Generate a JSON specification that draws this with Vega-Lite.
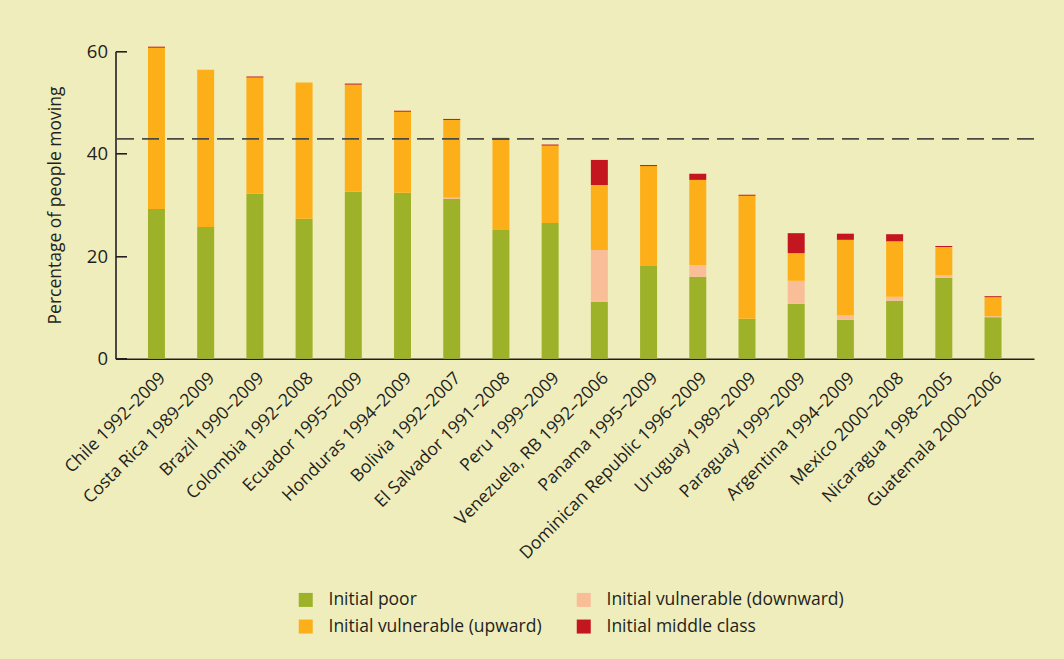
{
  "$schema": "https://vega.github.io/schema/vega-lite/v6.json",
  "width": 918.5,
  "height": 307.4,
  "autosize": {"type": "none"},
  "padding": {"left": 115.5, "top": 51.3, "right": 30, "bottom": 300.3},
  "background": "#efedbc",
  "config": {
    "font": "Open Sans",
    "view": {"stroke": null},
    "axis": {"labelColor": "#231f20", "titleColor": "#231f20", "domainColor": "#231f20", "tickColor": "#231f20", "grid": false}
  },
  "layer": [
    {
      "data": {
        "values": [
          {"country": "Chile 1992–2009", "Initial poor": 29.2, "Initial vulnerable (downward)": 0, "Initial vulnerable (upward)": 31.5, "Initial middle class": 0.2},
          {"country": "Costa Rica 1989–2009", "Initial poor": 25.7, "Initial vulnerable (downward)": 0, "Initial vulnerable (upward)": 30.7, "Initial middle class": 0},
          {"country": "Brazil 1990–2009", "Initial poor": 32.2, "Initial vulnerable (downward)": 0, "Initial vulnerable (upward)": 22.7, "Initial middle class": 0.2},
          {"country": "Colombia 1992–2008", "Initial poor": 27.3, "Initial vulnerable (downward)": 0, "Initial vulnerable (upward)": 26.6, "Initial middle class": 0},
          {"country": "Ecuador 1995–2009", "Initial poor": 32.6, "Initial vulnerable (downward)": 0, "Initial vulnerable (upward)": 20.9, "Initial middle class": 0.2},
          {"country": "Honduras 1994–2009", "Initial poor": 32.4, "Initial vulnerable (downward)": 0, "Initial vulnerable (upward)": 15.8, "Initial middle class": 0.2},
          {"country": "Bolivia 1992–2007", "Initial poor": 31.2, "Initial vulnerable (downward)": 0.2, "Initial vulnerable (upward)": 15.2, "Initial middle class": 0.2},
          {"country": "El Salvador 1991–2008", "Initial poor": 25.1, "Initial vulnerable (downward)": 0, "Initial vulnerable (upward)": 17.6, "Initial middle class": 0.4},
          {"country": "Peru 1999–2009", "Initial poor": 26.5, "Initial vulnerable (downward)": 0, "Initial vulnerable (upward)": 15.1, "Initial middle class": 0.2},
          {"country": "Venezuela, RB 1992–2006", "Initial poor": 11.1, "Initial vulnerable (downward)": 10.1, "Initial vulnerable (upward)": 12.7, "Initial middle class": 4.9},
          {"country": "Panama 1995–2009", "Initial poor": 18.1, "Initial vulnerable (downward)": 0, "Initial vulnerable (upward)": 19.5, "Initial middle class": 0.2},
          {"country": "Dominican Republic 1996–2009", "Initial poor": 16.0, "Initial vulnerable (downward)": 2.3, "Initial vulnerable (upward)": 16.6, "Initial middle class": 1.2},
          {"country": "Uruguay 1989–2009", "Initial poor": 7.8, "Initial vulnerable (downward)": 0, "Initial vulnerable (upward)": 24.0, "Initial middle class": 0.2},
          {"country": "Paraguay 1999–2009", "Initial poor": 10.7, "Initial vulnerable (downward)": 4.5, "Initial vulnerable (upward)": 5.4, "Initial middle class": 3.9},
          {"country": "Argentina 1994–2009", "Initial poor": 7.6, "Initial vulnerable (downward)": 0.9, "Initial vulnerable (upward)": 14.7, "Initial middle class": 1.2},
          {"country": "Mexico 2000–2008", "Initial poor": 11.3, "Initial vulnerable (downward)": 0.8, "Initial vulnerable (upward)": 10.8, "Initial middle class": 1.4},
          {"country": "Nicaragua 1998–2005", "Initial poor": 15.8, "Initial vulnerable (downward)": 0.5, "Initial vulnerable (upward)": 5.5, "Initial middle class": 0.2},
          {"country": "Guatemala 2000–2006", "Initial poor": 8.1, "Initial vulnerable (downward)": 0.2, "Initial vulnerable (upward)": 3.7, "Initial middle class": 0.2}
        ]
      },
      "transform": [
        {"fold": ["Initial poor", "Initial vulnerable (downward)", "Initial vulnerable (upward)", "Initial middle class"], "as": ["group", "value"]},
        {"calculate": "indexof(['Initial poor', 'Initial vulnerable (downward)', 'Initial vulnerable (upward)', 'Initial middle class'], datum.group)", "as": "k"}
      ],
      "mark": {"type": "bar"},
      "encoding": {
        "x": {
          "field": "country", "type": "nominal", "sort": null,
          "scale": {"paddingInner": 0.655, "paddingOuter": 0.66},
          "axis": {"title": null, "labelAngle": -45, "labelFontSize": 17.5, "labelPadding": 10, "ticks": false, "domainWidth": 1.6, "labelLimit": 400}
        },
        "y": {
          "field": "value", "type": "quantitative", "stack": "zero",
          "scale": {"domain": [0, 60], "nice": false},
          "axis": {"title": "Percentage of people moving", "titleFontSize": 17.5, "titleFontWeight": "normal", "values": [0, 20, 40, 60], "labelFontSize": 18.5, "tickSize": -11, "labelPadding": 19, "titlePadding": 22, "domainWidth": 1.6, "tickWidth": 1.6}
        },
        "order": {"field": "k", "type": "quantitative", "sort": "ascending"},
        "color": {
          "field": "group", "type": "nominal",
          "scale": {
            "domain": ["Initial poor", "Initial vulnerable (downward)", "Initial vulnerable (upward)", "Initial middle class"],
            "range": ["#9db228", "#f9bd98", "#fdaf1a", "#c4161e"]
          },
          "legend": {
            "title": null, "orient": "none", "legendX": 181.5, "legendY": 539.5, "columns": 2, "direction": "horizontal",
            "symbolType": "square", "symbolSize": 196, "symbolStrokeWidth": 0, "labelFontSize": 17.5, "labelColor": "#231f20",
            "labelOffset": 14, "columnPadding": 33, "rowPadding": 8, "labelLimit": 400
          }
        }
      }
    },
    {
      "data": {"values": [{"ref": 42.9}]},
      "mark": {"type": "rule", "strokeDash": [17, 8], "strokeWidth": 1.8, "color": "#4a4a44"},
      "encoding": {"y": {"field": "ref", "type": "quantitative"}}
    }
  ]
}
